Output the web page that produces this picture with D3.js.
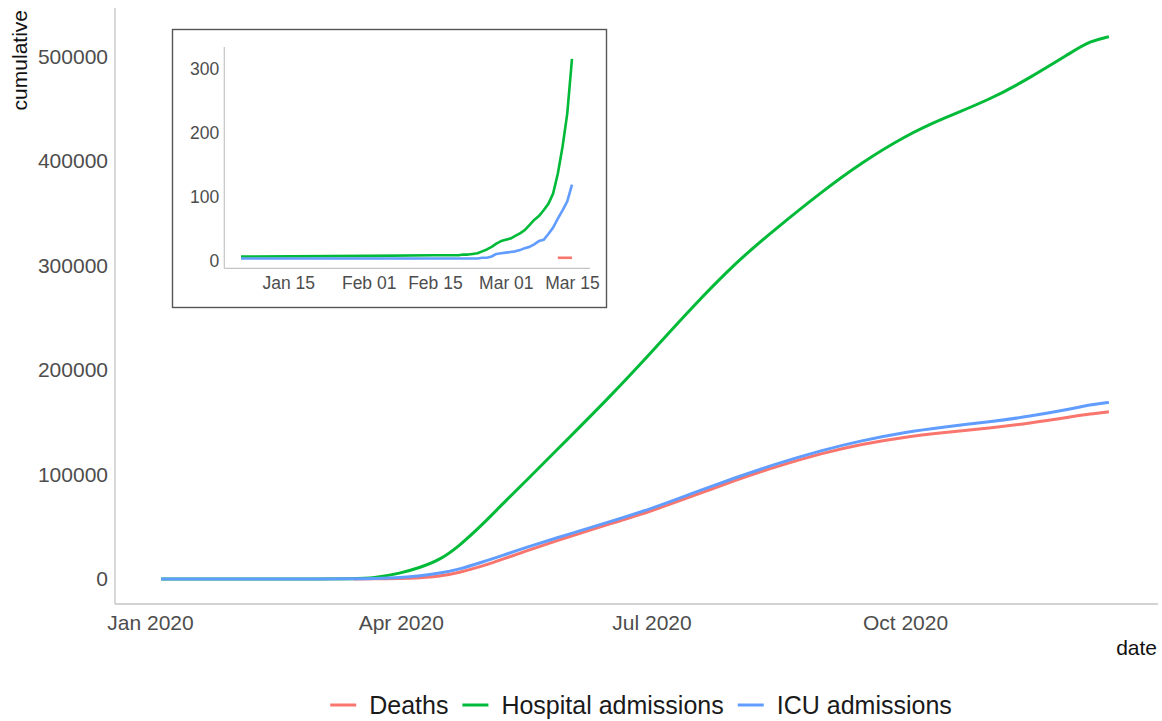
<!DOCTYPE html>
<html>
<head>
<meta charset="utf-8">
<script src="https://cdn.jsdelivr.net/npm/d3@7"></script>
<style>
  body { margin: 0; background: #fff; }
  text { font-family: "Liberation Sans", Arial, sans-serif; }
</style>
</head>
<body>
<script>
// main chart, cumulative counts
const mainDates = ["2020-01-05","2020-02-15","2020-03-01","2020-03-15","2020-03-22","2020-04-01","2020-04-08",
    "2020-04-15","2020-04-22","2020-05-01","2020-05-08","2020-05-15","2020-06-01","2020-06-15","2020-07-01",
    "2020-07-15","2020-08-01","2020-08-15","2020-09-01","2020-09-15","2020-10-01","2020-10-15","2020-11-01",
    "2020-11-15","2020-12-01","2020-12-07","2020-12-14"];
const mainHospital = [7, 9, 32, 315, 800, 5500, 11000, 18000, 31000, 53000, 72000, 90000, 135000, 172000, 217000,
    258000, 304000, 335000, 371000, 398000, 424000, 441000, 459000, 479000, 505000, 514500, 519000];
const mainICU = [4, 4, 13, 119, 400, 1300, 3000, 5500, 9000, 16500, 22500, 29000, 43000, 54000, 67300,
    81300, 97500, 110000, 123300, 132300, 140500, 145500, 150500, 155500, 163000, 166700, 169000];
const mainDeaths = [null, null, null, 5, 100, 500, 1200, 2500, 6000, 12500, 19000, 25500, 40500, 52000, 65000,
    78500, 95000, 107500, 120500, 129000, 136000, 140000, 144500, 149000, 155500, 158000, 160000];

// inset, first weeks
const insetDates = ["2020-01-05","2020-02-01","2020-02-15","2020-02-20","2020-02-21","2020-02-22","2020-02-23",
    "2020-02-24","2020-02-25","2020-02-26","2020-02-27","2020-02-28","2020-02-29","2020-03-01","2020-03-02",
    "2020-03-03","2020-03-04","2020-03-05","2020-03-06","2020-03-07","2020-03-08","2020-03-09","2020-03-10",
    "2020-03-11","2020-03-12","2020-03-13","2020-03-14","2020-03-15"];
const insetHospital = [7, 8, 9, 9, 10, 10, 11, 12, 15, 18, 22, 27, 31, 33, 35, 39, 43, 48, 56, 64, 70, 79, 89,
    105, 136, 178, 230, 315];
const insetICU = [4, 4, 4, 4, 4, 4, 4, 4, 5, 5, 7, 11, 12, 13, 14, 15, 17, 20, 22, 26, 31, 33, 42, 52, 66, 79, 93, 119];
const insetDeaths = [null, null, null, null, null, null, null, null, null, null, null, null, null, null, null,
    null, null, null, null, null, null, null, null, null, 5, 5, 5, 5];

const seriesNames = ["Deaths", "Hospital admissions", "ICU admissions"];
const seriesColors = ["#F8766D", "#00BA38", "#619CFF"];

const mainXTicks = ["2020-01-01", "2020-04-01", "2020-07-01", "2020-10-01"];
const mainYTicks = [0, 100000, 200000, 300000, 400000, 500000];
const insetXTicks = ["2020-01-15", "2020-02-01", "2020-02-15", "2020-03-01", "2020-03-15"];
const insetYTicks = [0, 100, 200, 300];

const width = 1162, height = 721;
const AXIS_GREY = "#c4c4c4";
const TICK_GREY = "#4d4d4d";

const parse = d3.utcParse("%Y-%m-%d");

function makeSeries(dates, lists) {
    return lists.map(function(vals, i) {
        return {
            name: seriesNames[i],
            color: seriesColors[i],
            values: dates.map(function(d, j) { return {date: parse(d), value: vals[j]}; })
        };
    });
}

const svg = d3.select("body").append("svg")
    .attr("width", width)
    .attr("height", height);

// ---------- main panel ----------
let x = d3.scaleUtc()
    .domain([parse("2020-01-01"), parse("2020-10-01")])
    .range([150, 905]);
let y = d3.scaleLinear()
    .domain([0, 500000])
    .range([579, 56.5]);

// axis lines
svg.append("line")
    .attr("x1", 115).attr("x2", 115).attr("y1", 8).attr("y2", 604)
    .attr("stroke", AXIS_GREY).attr("stroke-width", 1.3);
svg.append("line")
    .attr("x1", 115).attr("x2", 1158).attr("y1", 604).attr("y2", 604)
    .attr("stroke", AXIS_GREY).attr("stroke-width", 1.3);

let yAxis = svg.append("g")
    .attr("transform", "translate(115,0)")
    .call(d3.axisLeft(y).tickValues(mainYTicks).tickSize(0).tickPadding(7).tickFormat(d3.format("d")));
let xAxis = svg.append("g")
    .attr("transform", "translate(0,604)")
    .call(d3.axisBottom(x).tickValues(mainXTicks.map(parse)).tickSize(0).tickPadding(11)
        .tickFormat(d3.utcFormat("%b %Y")));
[yAxis, xAxis].forEach(function(a) {
    a.select(".domain").remove();
    a.selectAll("text")
        .attr("fill", TICK_GREY)
        .style("font-size", "21px")
        .style("font-family", "Liberation Sans, Arial, sans-serif");
});

// axis titles
svg.append("text")
    .attr("transform", "translate(27,10) rotate(-90)")
    .attr("text-anchor", "end")
    .style("font-size", "21px")
    .attr("fill", "#111")
    .text("cumulative");
svg.append("text")
    .attr("x", 1157).attr("y", 655)
    .attr("text-anchor", "end")
    .style("font-size", "21px")
    .attr("fill", "#111")
    .text("date");

// basis keeps the long curves smooth like the smoothed original
let mainLine = d3.line()
    .defined(function(d) { return d.value != null; })
    .x(function(d) { return x(d.date); })
    .y(function(d) { return y(d.value); })
    .curve(d3.curveBasis);

svg.append("g")
    .selectAll("path")
    .data(makeSeries(mainDates, [mainDeaths, mainHospital, mainICU]))
    .enter().append("path")
    .attr("d", function(d) { return mainLine(d.values); })
    .attr("fill", "none")
    .attr("stroke", function(d) { return d.color; })
    .attr("stroke-width", 3)
    .attr("stroke-linejoin", "round");

// ---------- inset ----------
let inset = svg.append("g");
inset.append("rect")
    .attr("x", 172.5).attr("y", 29.5).attr("width", 434).attr("height", 278)
    .attr("fill", "#fff")
    .attr("stroke", "#555")
    .attr("stroke-width", 1.4);

let ix = d3.scaleUtc()
    .domain([parse("2020-01-15"), parse("2020-03-15")])
    .range([288.3, 572]);
let iy = d3.scaleLinear()
    .domain([0, 300])
    .range([261, 68.4]);

inset.append("line")
    .attr("x1", 224.3).attr("x2", 224.3).attr("y1", 47).attr("y2", 268.3)
    .attr("stroke", AXIS_GREY).attr("stroke-width", 1.2);
inset.append("line")
    .attr("x1", 224.3).attr("x2", 590).attr("y1", 268.3).attr("y2", 268.3)
    .attr("stroke", AXIS_GREY).attr("stroke-width", 1.2);

let iyAxis = inset.append("g")
    .attr("transform", "translate(224.3,0)")
    .call(d3.axisLeft(iy).tickValues(insetYTicks).tickSize(0).tickPadding(5));
let ixAxis = inset.append("g")
    .attr("transform", "translate(0,268.3)")
    .call(d3.axisBottom(ix).tickValues(insetXTicks.map(parse)).tickSize(0).tickPadding(8.5)
        .tickFormat(d3.utcFormat("%b %d")));
[iyAxis, ixAxis].forEach(function(a) {
    a.select(".domain").remove();
    a.selectAll("text")
        .attr("fill", TICK_GREY)
        .style("font-size", "17.5px")
        .style("font-family", "Liberation Sans, Arial, sans-serif");
});

let insetLine = d3.line()
    .defined(function(d) { return d.value != null; })
    .x(function(d) { return ix(d.date); })
    .y(function(d) { return iy(d.value); });

inset.append("g")
    .selectAll("path")
    .data(makeSeries(insetDates, [insetDeaths, insetHospital, insetICU]))
    .enter().append("path")
    .attr("d", function(d) { return insetLine(d.values); })
    .attr("fill", "none")
    .attr("stroke", function(d) { return d.color; })
    .attr("stroke-width", 2.6)
    .attr("stroke-linejoin", "round");

// ---------- legend ----------
let legend = svg.append("g");
let items = legend.selectAll("g")
    .data(seriesNames)
    .enter().append("g");
items.append("line")
    .attr("x1", 0).attr("x2", 26).attr("y1", 0).attr("y2", 0)
    .attr("stroke", function(d, i) { return seriesColors[i]; })
    .attr("stroke-width", 3);
items.append("text")
    .attr("x", 39).attr("y", 9)
    .style("font-size", "25px")
    .attr("fill", "#1a1a1a")
    .text(function(d) { return d; });

// lay the items side by side, centred under the panel
let offset = 0;
let offsets = [];
items.each(function() {
    offsets.push(offset);
    offset += 39 + this.querySelector("text").getComputedTextLength() + 14;
});
let total = offset - 14;
let startX = 641 - total / 2;
items.attr("transform", function(d, i) { return "translate(" + (startX + offsets[i]) + ",705)"; });
</script>
</body>
</html>
